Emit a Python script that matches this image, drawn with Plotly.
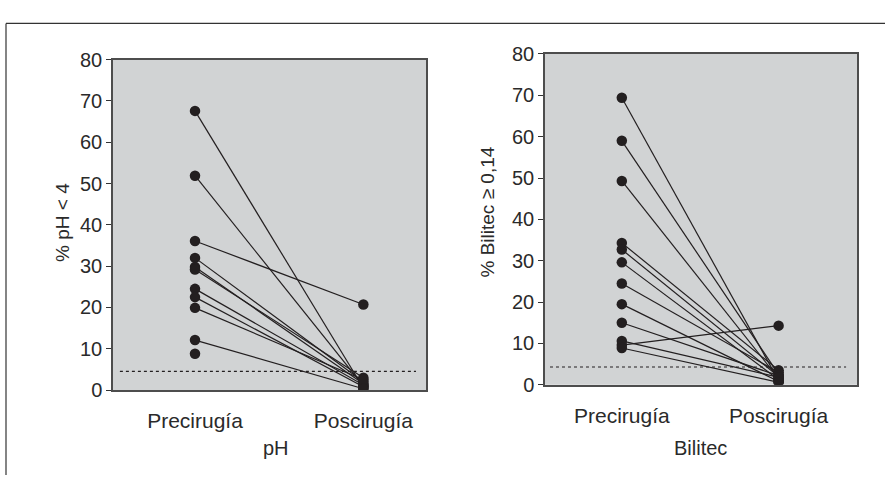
import plotly.graph_objects as go

# ---- data ----
categories = ["Precirugía", "Poscirugía"]

ph_pre = [67.6, 51.9, 36.1, 32.0, 29.8, 29.2, 24.5, 22.5, 19.9, 12.1, 8.8]
ph_post = [0.5, 1.0, 20.7, 2.0, 1.5, 3.0, 1.2, 0.8, 2.5, 0.3, None]
ph_threshold = 4.5

bil_pre = [69.4, 59.0, 49.3, 34.3, 32.7, 29.6, 24.5, 19.5, 15.0, 10.6, 9.6, 8.9]
bil_post = [1.0, 2.5, 1.5, 3.5, 2.0, 1.2, 3.0, 0.8, 2.2, 1.8, 14.3, 0.6]
bil_threshold = 4.3

y_ticks = [0, 10, 20, 30, 40, 50, 60, 70, 80]

FONT = "Liberation Sans, Arial, Helvetica, sans-serif"
W, H = 885, 486
DARK = "#231f20"
TXT = "#2a2a2a"

fig = go.Figure()


def add_pairs(pre, post, xa, ya):
    for a, b in zip(pre, post):
        if b is None:
            fig.add_trace(go.Scatter(x=[1], y=[a], mode="markers",
                                     marker=dict(size=10.5, color=DARK),
                                     xaxis=xa, yaxis=ya, showlegend=False,
                                     hoverinfo="skip"))
        else:
            fig.add_trace(go.Scatter(x=[1, 2], y=[a, b], mode="lines+markers",
                                     line=dict(color=DARK, width=1.2),
                                     marker=dict(size=10.5, color=DARK),
                                     xaxis=xa, yaxis=ya, showlegend=False,
                                     hoverinfo="skip"))


add_pairs(ph_pre, ph_post, "x", "y")
add_pairs(bil_pre, bil_post, "x2", "y2")


def xd(p0, p1):
    return [p0 / W, p1 / W]


def yd(top, bottom):
    return [(H - bottom) / H, (H - top) / H]


ytickfont = dict(family=FONT, size=20, color=TXT)
xtickfont = dict(family=FONT, size=21, color=TXT)
axis_common = dict(showgrid=False, zeroline=False, showline=True, mirror=True,
                   linecolor="#4d4d4d", linewidth=1.5)

fig.update_layout(
    width=W, height=H,
    margin=dict(l=0, r=0, t=0, b=0),
    paper_bgcolor="white",
    plot_bgcolor="#d1d3d4",
    font=dict(family=FONT, color=TXT),
    xaxis=dict(domain=xd(113, 426), range=[0.513, 2.372], anchor="y",
               tickvals=[1, 2], ticktext=categories, ticks="outside",
               ticklen=11, tickcolor="rgba(0,0,0,0)", tickfont=xtickfont,
               **axis_common),
    yaxis=dict(domain=yd(51, 397), range=[0, 80], anchor="x",
               tickvals=y_ticks, ticks="outside", ticklen=5, tickwidth=1.2,
               tickcolor="#333", tickfont=ytickfont, **axis_common),
    xaxis2=dict(domain=xd(545, 857), range=[0.51, 2.50], anchor="y2",
                tickvals=[1, 2], ticktext=categories, ticks="outside",
                ticklen=11, tickcolor="rgba(0,0,0,0)", tickfont=xtickfont,
                **axis_common),
    yaxis2=dict(domain=yd(45, 391.5), range=[0, 80], anchor="x2",
                tickvals=y_ticks, ticks="outside", ticklen=5, tickwidth=1.2,
                tickcolor="#333", tickfont=ytickfont, **axis_common),
)

# threshold dotted lines
fig.add_shape(type="line", xref="x domain", yref="y", x0=0.022, x1=0.968,
              y0=ph_threshold, y1=ph_threshold,
              line=dict(color=DARK, width=1.2, dash="dot"))
fig.add_shape(type="line", xref="x2 domain", yref="y2", x0=0.016, x1=0.965,
              y0=bil_threshold, y1=bil_threshold,
              line=dict(color=DARK, width=1.2, dash="dot"))

# outer frame (top and left edges)
fig.add_shape(type="line", xref="paper", yref="paper", x0=6 / W, x1=1,
              y0=(H - 13) / H, y1=(H - 13) / H,
              line=dict(color="#333", width=1.2))
fig.add_shape(type="line", xref="paper", yref="paper", x0=6 / W, x1=6 / W,
              y0=0, y1=(H - 13) / H,
              line=dict(color="#333", width=1.2))

titles = [
    ("% pH < 4", 63, 222, -90, 19),
    ("% Bilitec \u2265 0,14", 487, 210, -90, 19),
    ("pH", 276, 458, 0, 20),
    ("Bilitec", 700, 458, 0, 20),
]
for text, px, py, ang, fs in titles:
    fig.add_annotation(text=text, x=px / W, y=(H - py) / H, xref="paper",
                       yref="paper", showarrow=False, textangle=ang,
                       font=dict(family=FONT, size=fs, color=TXT),
                       xanchor="center", yanchor="middle")

fig.write_html("out.html",
               config={"displayModeBar": False},
               post_script="document.body.style.margin='0';"
                           "document.body.style.overflow='hidden';")
